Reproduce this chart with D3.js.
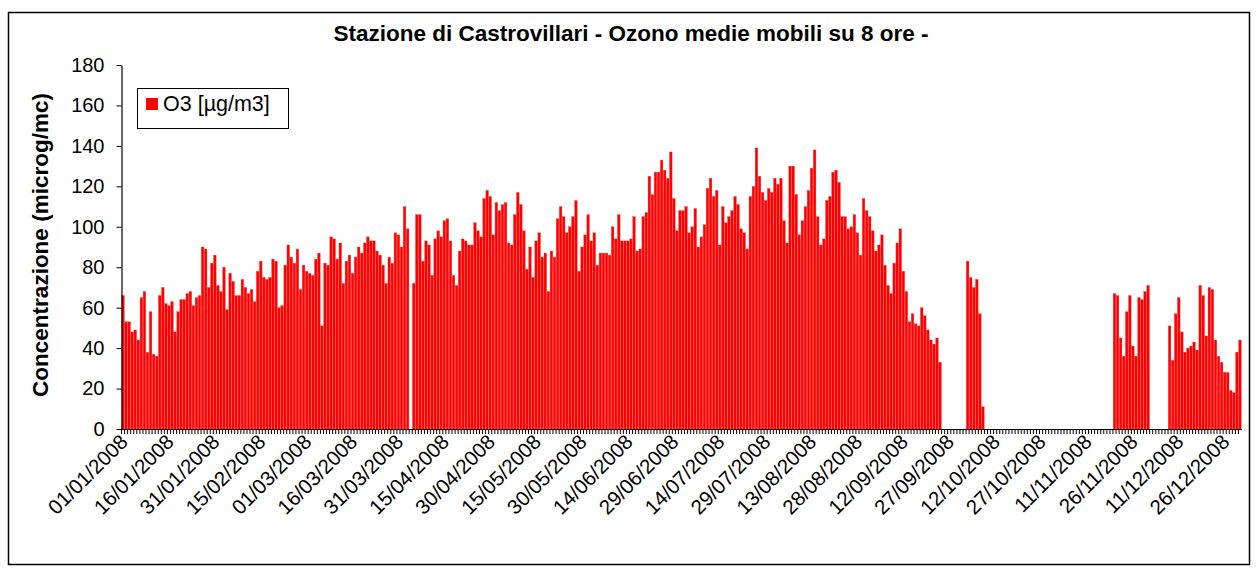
<!DOCTYPE html>
<html><head><meta charset="utf-8">
<script src="https://cdn.jsdelivr.net/npm/d3@7/dist/d3.min.js"></script>
<style>body{margin:0;background:#fff}svg{display:block}text{font-family:"Liberation Sans",Arial,sans-serif}</style>
</head><body><svg id="c" width="1257" height="569"></svg>
<script>
const title = "Stazione di Castrovillari - Ozono medie mobili su 8 ore -";
const yTitle = "Concentrazione (microg/mc)";
const seriesName = "O3 [µg/m3]";
const yTicks = [0,20,40,60,80,100,120,140,160,180];
const tickLabels = ["01/01/2008","16/01/2008","31/01/2008","15/02/2008","01/03/2008","16/03/2008","31/03/2008","15/04/2008","30/04/2008","15/05/2008","30/05/2008","14/06/2008","29/06/2008","14/07/2008","29/07/2008","13/08/2008","28/08/2008","12/09/2008","27/09/2008","12/10/2008","27/10/2008","11/11/2008","26/11/2008","11/12/2008","26/12/2008"];
const fmt = d3.timeFormat("%d/%m/%Y");
const categories = d3.timeDay.range(new Date(2008,0,1), new Date(2009,0,1)).map(fmt);
const _ = null;
const janFeb = [66,53,53,48,49,44,65,68,38,58,37,36,66,70,62,61,63,48,58,64,64,67,68,61,65,66,90,89,
  70,82,86,71,68,80,59,77,73,66,66,74,70,67,69,63,78,83,75,74,75,84,83,60,61,81,91,85,82,89,69];
const marApr = [81,78,77,76,84,87,51,82,81,95,94,84,92,72,83,86,77,85,90,87,92,95,93,93,88,86,81,72,85,
  82,97,96,90,110,99,_,72,106,106,83,93,91,76,94,98,95,103,104,93,76,71,88,94,93,91,91,102,98];
const mayJun = [95,114,118,115,96,112,108,111,112,92,91,106,117,111,98,79,90,75,93,97,85,87,68,88,85,104,110,105,97,100,
  105,113,78,90,96,106,93,97,81,87,87,87,86,100,94,106,93,93,93,94,105,88,89,105,107,125,116,127,127,133];
const julAug = [128,124,137,114,98,108,108,110,97,100,109,90,95,101,119,124,115,118,91,110,102,105,108,115,111,99,97,89,115,
  120,139,125,117,113,119,117,124,121,124,103,92,130,130,116,96,103,110,118,129,138,105,91,94,113,115,127,128,122];
const sepOct = [105,105,99,100,106,97,86,114,108,105,98,88,91,96,81,71,67,82,92,99,78,68,53,57,52,51,60,56,49,44,42,45,33,
  _,_,_,_,_,_,_,_, 83,75,70,74,57,11];
const novDec = [_,_,_,_,_,_,_,_,_,_,_,_,_,_,_,_,_,_,_,_,_,_,_,_,_,_,_,_,_,_,_,_,_,_,_,_,_,_,_,_,_,_,
  67,66,45,36,58,66,41,36,65,64,68,71, _,_,_,_,_,_,
  51,34,57,65,48,38,40,41,43,39,71,66,46,70,69,44,36,33,28,28,19,18,38,44];
const values = [].concat(janFeb, marApr, mayJun, julAug, sepOct, novDec);
while (values.length < categories.length) values.push(null);

const svg = d3.select("#c");
const L = 121.5, R = 1241.5, T = 65, B = 429;
const x = d3.scaleBand().domain(categories).range([L, R]).paddingInner(0.14).paddingOuter(0.07);
const y = d3.scaleLinear().domain([0,180]).range([B, T]);

svg.append("rect").attr("x",8.5).attr("y",12.5).attr("width",1241).attr("height",552)
  .attr("fill","#fff").attr("stroke","#000").attr("stroke-width",1.5);

svg.append("text").attr("x",631).attr("y",41).attr("text-anchor","middle")
  .attr("font-size",22.5).attr("font-weight","bold").text(title);

const data = categories.map((c,i)=>({c, v: values[i]})).filter(d=>d.v!=null);
svg.append("g").selectAll("rect").data(data).join("rect")
  .attr("x", d=>x(d.c)).attr("width", x.bandwidth())
  .attr("y", d=>y(d.v)).attr("height", d=>B - y(d.v))
  .attr("fill","#ff0000").attr("stroke","#ff3a3a").attr("stroke-width",0.3);

const xa = svg.append("g").attr("transform",`translate(0,${B})`)
  .call(d3.axisBottom(x).tickValues(categories).tickFormat("").tickSize(5).tickSizeOuter(0));
xa.selectAll(".tick line").attr("transform",`translate(${-x.bandwidth()/2 - x.step()*x.paddingInner()/2},0)`).attr("stroke","#000");
xa.select(".domain").attr("stroke","#000").attr("stroke-width",1.2);

svg.append("g").selectAll("text").data(tickLabels).join("text")
  .attr("transform", d=>`translate(${x(d)+x.bandwidth()/2+1},${B+9}) rotate(-45)`)
  .attr("text-anchor","end").attr("font-size",20.5).attr("dy","0.35em").text(d=>d);

const ya = svg.append("g").attr("transform",`translate(${L},0)`)
  .call(d3.axisLeft(y).tickValues(yTicks).tickSize(5).tickSizeOuter(0).tickPadding(12));
ya.selectAll("text").attr("font-size",20).attr("font-family",'"Liberation Sans",Arial,sans-serif').attr("fill","#000");
ya.selectAll(".tick line").attr("stroke","#000");
ya.select(".domain").attr("stroke","#000").attr("stroke-width",1.2);

svg.append("text").attr("transform","translate(48,245) rotate(-90)").attr("text-anchor","middle")
  .attr("font-size",22.5).attr("font-weight","bold").text(yTitle);

const lg = svg.append("g");
lg.append("rect").attr("x",137.5).attr("y",88.5).attr("width",151).attr("height",40).attr("fill","#fff").attr("stroke","#000");
lg.append("rect").attr("x",146).attr("y",98).attr("width",12).attr("height",12).attr("fill","#ff0000");
lg.append("text").attr("x",163).attr("y",111).attr("font-size",21.5).text(seriesName);
</script></body></html>
